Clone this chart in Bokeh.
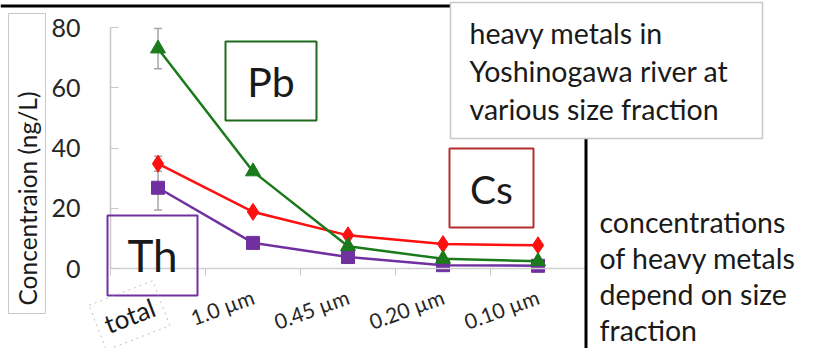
from bokeh.plotting import figure
from bokeh.models import (Range1d, FixedTicker, Label, BoxAnnotation, Whisker,
                          TeeHead, ColumnDataSource)
from bokeh.embed import file_html
from bokeh.resources import INLINE
import math

# ---------------- data ----------------
categories = ["total", "1.0 µm", "0.45 µm", "0.20 µm", "0.10 µm"]
pb = [73, 32.2, 7.4, 3.2, 2.4]
cs = [34.8, 18.8, 11.0, 8.1, 7.7]
th = [26.8, 8.5, 3.8, 1.1, 0.9]
pb_err = [6.7]
cs_err = [2.5]
th_err = [7.4]
yticks = [0, 20, 40, 60, 80]
title_lines = ["heavy metals in", "Yoshinogawa river at", "various size fraction"]
note_lines = ["concentrations", "of heavy metals", "depend on size", "fraction"]

FONT = "Lato"
W, H = 805, 348
# plot area in picture pixels
FL, FR, FT, FB = 110, 585, 27, 268
YMAX = 80.0

xs = [i + 0.5 for i in range(len(categories))]

# helpers: picture pixel -> data coordinates (layout only)
def dx(X):
    return (X - FL) / (FR - FL) * len(categories)

def dy(Y):
    return (FB - Y) / (FB - FT) * YMAX

p = figure(width=W, height=H, output_backend="svg", toolbar_location=None,
           x_range=Range1d(dx(0), dx(W)), y_range=Range1d(dy(H), dy(0)),
           min_border=0, min_border_left=0, min_border_right=0,
           min_border_top=0, min_border_bottom=0)
p.outline_line_color = None
p.grid.visible = False
p.background_fill_color = "white"
p.border_fill_color = "white"

# ---- axes ----
ax = p.xaxis[0]
ax.fixed_location = 0
ax.bounds = (0, len(categories))
ax.ticker = FixedTicker(ticks=xs, minor_ticks=list(range(len(categories) + 1)))
ax.major_label_overrides = {x: (c if c != "total" else " ") for x, c in zip(xs, categories)}
ax.major_label_orientation = math.radians(20)
ax.major_label_text_font = FONT
ax.major_label_text_font_size = "21px"
ax.major_label_text_color = "#262626"
ax.major_tick_line_color = None
ax.major_tick_out = 0
ax.major_tick_in = 0
ax.minor_tick_line_color = "#c8c8c8"
ax.minor_tick_out = 7
ax.minor_tick_in = 0
ax.axis_line_color = "#d0d0d0"
ax.axis_line_width = 1.5
ax.major_label_standoff = 20

ay = p.yaxis[0]
ay.fixed_location = 0
ay.bounds = (0, YMAX)
ay.ticker = FixedTicker(ticks=yticks)
ay.major_label_text_font = FONT
ay.major_label_text_font_size = "25px"
ay.major_label_text_color = "#262626"
ay.major_tick_line_color = "#c8c8c8"
ay.major_tick_in = 8
ay.major_tick_out = 0
ay.minor_tick_line_color = None
ay.axis_line_color = "#c8c8c8"
ay.axis_line_width = 1.5
ay.major_label_standoff = 30

# ---- error bars ----
src_err = ColumnDataSource(dict(
    x=[xs[0]] * 3,
    upper=[pb[0] + pb_err[0], cs[0] + cs_err[0], th[0] + th_err[0]],
    lower=[pb[0] - pb_err[0], cs[0] - cs_err[0], th[0] - th_err[0]]))
wk = Whisker(source=src_err, base="x", upper="upper", lower="lower",
             line_color="#a6a6a6", line_width=1.5,
             upper_head=TeeHead(size=8, line_color="#a6a6a6", line_width=1.5),
             lower_head=TeeHead(size=8, line_color="#a6a6a6", line_width=1.5))
p.add_layout(wk)

# ---- series ----
GREEN, RED, PURPLE = "#1b7a1b", "#ff1010", "#7030a0"
p.line(xs, th, line_color=PURPLE, line_width=2.5)
p.scatter(xs, th, marker="square", size=13, fill_color=PURPLE, line_color=PURPLE)
p.line(xs, cs, line_color=RED, line_width=2.5)
p.scatter(xs, cs, marker="diamond", size=17, fill_color=RED, line_color=RED)
p.line(xs, pb, line_color=GREEN, line_width=2.5)
p.scatter(xs, pb, marker="triangle", size=15, fill_color=GREEN, line_color=GREEN)

# ---- decorations (layout in picture pixels) ----
def box(x0, y0, x1, y1, line_color=None, fill_color=None, lw=1.0, dash="solid"):
    b = BoxAnnotation(left=dx(x0), right=dx(x1), top=dy(y0), bottom=dy(y1),
                      line_color=line_color, line_alpha=1.0, line_width=lw,
                      line_dash=dash, fill_color=fill_color,
                      fill_alpha=1.0 if fill_color else 0.0, level="overlay")
    p.add_layout(b)

def label(X, Y, text, size, align="left", angle=0.0, color="#1a1a1a", **kw):
    l = Label(x=dx(X), y=dy(Y), text=text, text_font=FONT, text_font_size=size,
              text_color=color, text_align=align, text_baseline="middle",
              angle=angle, level="overlay", **kw)
    p.add_layout(l)

# top rule and vertical rule
box(0, 4, 450, 7, fill_color="black")
box(584, 138, 587, H, fill_color="black")

# title box
box(450, 2, 762, 138, line_color="#c8c8c8", fill_color="white", lw=1.5)
for i, t in enumerate(title_lines):
    label(469, 32 + i * 38, t, "28.5px")

# right note
for i, t in enumerate(note_lines):
    label(599, 221 + i * 36.3, t, "28.5px")

# element boxes
box(225, 41, 316, 120, line_color="#1e6b1e", lw=2)
label(270.5, 81, "Pb", "41px", align="center")
box(449, 148, 533, 227, line_color="#b03030", lw=2)
label(491, 188, "Cs", "39px", align="center")
box(107, 215, 197, 295, line_color=PURPLE, lw=2)
label(152, 254, "Th", "44px", align="center")

# y-axis title in a box (text runs upward from its bottom end)
box(8, 13, 45, 313, line_color="#c8c8c8", lw=1)
label(27, 305, "Concentraion (ng/L)", "24.5px", align="left", angle=math.pi / 2)

# 'total' category label with dotted box
label(129, 315, "total", "26px", align="center", angle=math.radians(21),
      border_line_color="#c0c0c0", border_line_dash="dotted", padding=8)

open("out.html", "w").write(file_html(p, INLINE))
